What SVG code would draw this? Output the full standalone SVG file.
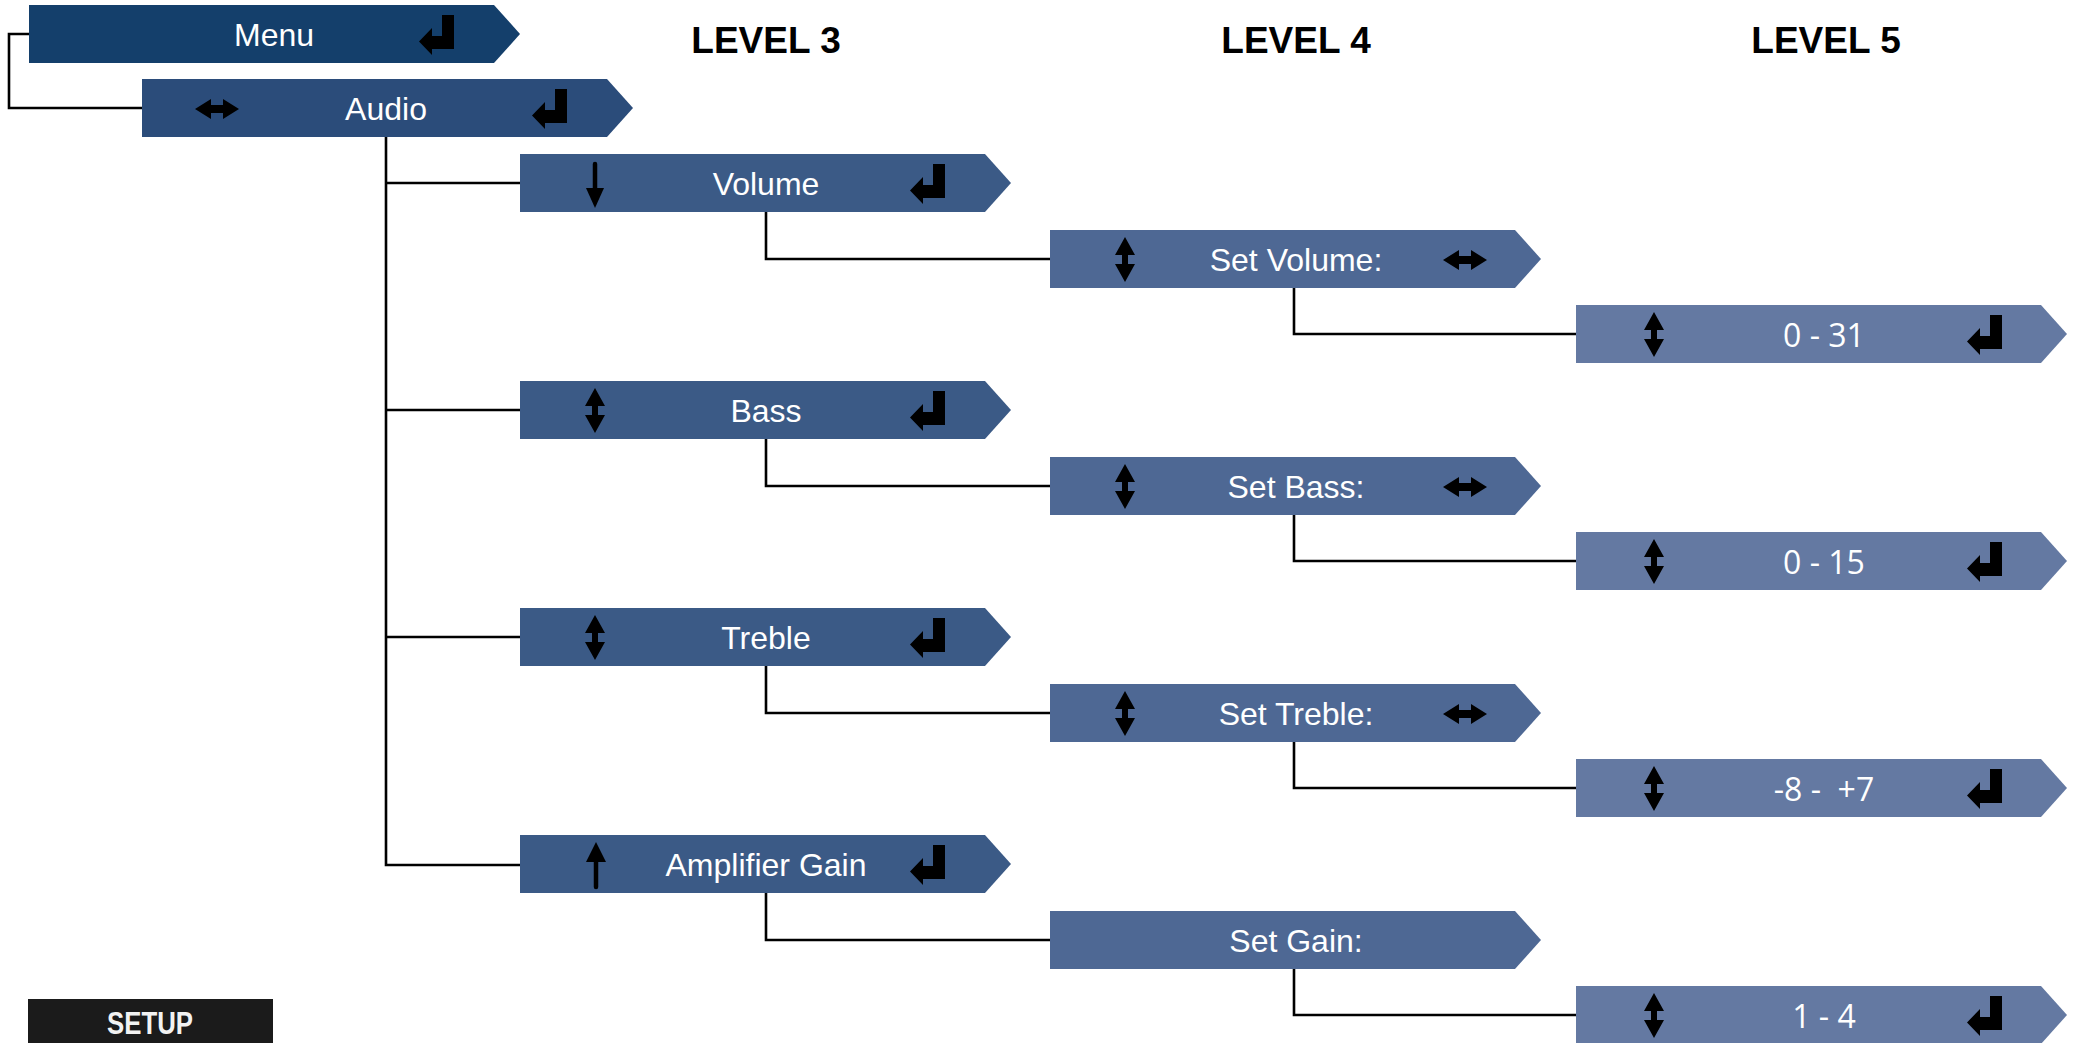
<svg xmlns="http://www.w3.org/2000/svg" xmlns:xlink="http://www.w3.org/1999/xlink" width="2073" height="1043" viewBox="0 0 2073 1043">
<style>
.lbl{font-family:"Liberation Sans",Arial,sans-serif;font-size:32px;fill:#fff;text-anchor:middle}
.val{font-family:"Open Sans","Liberation Sans",sans-serif;font-size:32px;fill:#fff;text-anchor:middle}
.hd{font-family:"Liberation Sans",Arial,sans-serif;font-size:37px;font-weight:bold;fill:#000;text-anchor:middle}
.ic{fill:#000}
.c0{fill:#143F6B}.c1{fill:#2B4C7A}.c2{fill:#3B5A86}.c3{fill:#4E6894}.c4{fill:#6479A2}
#connectors path{fill:none;stroke:#000;stroke-width:2.6}
</style>
<defs>
<path id="box" d="M0,0H465L491,29L465,58H0Z"/>
<path id="ret" d="M23,0H35V34H13V40L0,26.5L13,13V21H23Z"/>
<path id="ud" d="M0,0L10,18H3V27H10L0,45L-10,27H-3V18H-10Z"/>
<path id="lr" d="M-22,0L-6,-10V-4H6V-10L22,0L6,10V4H-6V10Z"/>
</defs>
<rect width="2073" height="1043" fill="#fff"/>

<g id="headers">
<text class="hd" x="766" y="53">LEVEL 3</text>
<text class="hd" x="1296" y="53">LEVEL 4</text>
<text class="hd" x="1826" y="53">LEVEL 5</text>
</g>

<g id="connectors">
<path d="M29,34H9V108H142"/>
<path d="M386,137V865H520"/>
<path d="M386,183H520"/>
<path d="M386,410H520"/>
<path d="M386,637H520"/>
<path d="M766,212V259H1050"/>
<path d="M766,439V486H1050"/>
<path d="M766,666V713H1050"/>
<path d="M766,893V940H1050"/>
<path d="M1294,288V334H1576"/>
<path d="M1294,515V561H1576"/>
<path d="M1294,742V788H1576"/>
<path d="M1294,969V1015H1576"/>
</g>

<g id="menu">
<use xlink:href="#box" x="29" y="5" class="c0"/>
<text class="lbl" x="274" y="46">Menu</text>
<use xlink:href="#ret" x="419" y="15" class="ic"/>
</g>

<g id="audio">
<use xlink:href="#box" x="142" y="79" class="c1"/>
<use xlink:href="#lr" x="217" y="109" class="ic"/>
<text class="lbl" x="386" y="120">Audio</text>
<use xlink:href="#ret" x="532" y="89" class="ic"/>
</g>

<g id="volume">
<use xlink:href="#box" x="520" y="154" class="c2"/>
<line x1="595" y1="164" x2="595" y2="192" stroke="#000" stroke-width="4.5" stroke-linecap="round"/>
<path class="ic" d="M586,188H604L595,208Z"/>
<text class="lbl" x="766" y="195">Volume</text>
<use xlink:href="#ret" x="910" y="164" class="ic"/>
</g>

<g id="bass">
<use xlink:href="#box" x="520" y="381" class="c2"/>
<use xlink:href="#ud" x="595" y="388" class="ic"/>
<text class="lbl" x="766" y="422">Bass</text>
<use xlink:href="#ret" x="910" y="391" class="ic"/>
</g>

<g id="treble">
<use xlink:href="#box" x="520" y="608" class="c2"/>
<use xlink:href="#ud" x="595" y="615" class="ic"/>
<text class="lbl" x="766" y="649">Treble</text>
<use xlink:href="#ret" x="910" y="618" class="ic"/>
</g>

<g id="amplifier-gain">
<use xlink:href="#box" x="520" y="835" class="c2"/>
<path class="ic" d="M596,842L586,862H606Z"/>
<line x1="596" y1="858" x2="596" y2="887" stroke="#000" stroke-width="4.5" stroke-linecap="round"/>
<text class="lbl" x="766" y="876">Amplifier Gain</text>
<use xlink:href="#ret" x="910" y="845" class="ic"/>
</g>

<g id="set-volume">
<use xlink:href="#box" x="1050" y="230" class="c3"/>
<use xlink:href="#ud" x="1125" y="237" class="ic"/>
<text class="lbl" x="1296" y="271">Set Volume:</text>
<use xlink:href="#lr" x="1465" y="260" class="ic"/>
</g>

<g id="set-bass">
<use xlink:href="#box" x="1050" y="457" class="c3"/>
<use xlink:href="#ud" x="1125" y="464" class="ic"/>
<text class="lbl" x="1296" y="498">Set Bass:</text>
<use xlink:href="#lr" x="1465" y="487" class="ic"/>
</g>

<g id="set-treble">
<use xlink:href="#box" x="1050" y="684" class="c3"/>
<use xlink:href="#ud" x="1125" y="691" class="ic"/>
<text class="lbl" x="1296" y="725">Set Treble:</text>
<use xlink:href="#lr" x="1465" y="714" class="ic"/>
</g>

<g id="set-gain">
<use xlink:href="#box" x="1050" y="911" class="c3"/>
<text class="lbl" x="1296" y="952">Set Gain:</text>
</g>

<g id="volume-range">
<use xlink:href="#box" x="1576" y="305" class="c4"/>
<use xlink:href="#ud" x="1654" y="312" class="ic"/>
<text class="val" x="1824" y="347">0 - 31</text>
<use xlink:href="#ret" x="1967" y="315" class="ic"/>
</g>

<g id="bass-range">
<use xlink:href="#box" x="1576" y="532" class="c4"/>
<use xlink:href="#ud" x="1654" y="539" class="ic"/>
<text class="val" x="1824" y="574">0 - 15</text>
<use xlink:href="#ret" x="1967" y="542" class="ic"/>
</g>

<g id="treble-range">
<use xlink:href="#box" x="1576" y="759" class="c4"/>
<use xlink:href="#ud" x="1654" y="766" class="ic"/>
<text class="val" x="1824" y="801" xml:space="preserve">-8 -  +7</text>
<use xlink:href="#ret" x="1967" y="769" class="ic"/>
</g>

<g id="gain-range">
<use xlink:href="#box" x="1576" y="986" class="c4"/>
<use xlink:href="#ud" x="1654" y="993" class="ic"/>
<text class="val" x="1824" y="1028">1 - 4</text>
<use xlink:href="#ret" x="1967" y="996" class="ic"/>
</g>

<g id="setup">
<rect x="28" y="999" width="245" height="44" fill="#1b1b1b"/>
<text x="150" y="1034" font-family="'Liberation Sans',Arial,sans-serif" font-size="31" font-weight="bold" fill="#f2f2f2" text-anchor="middle" textLength="86" lengthAdjust="spacingAndGlyphs">SETUP</text>
</g>
</svg>
